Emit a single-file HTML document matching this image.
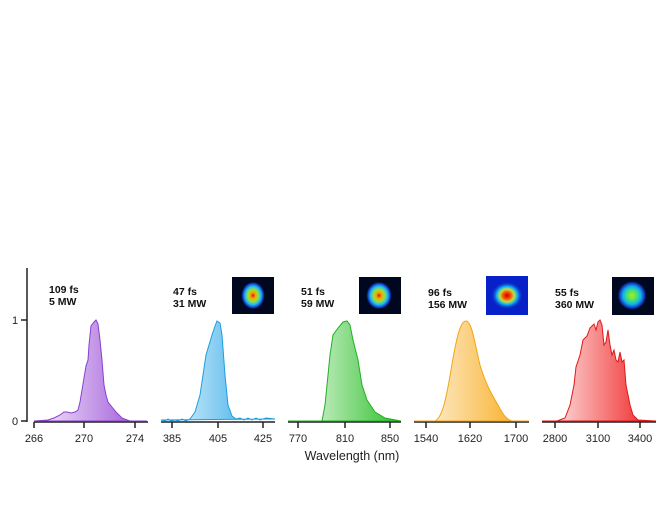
<!DOCTYPE html>
<html><head><meta charset="utf-8"><style>
html,body{margin:0;padding:0;background:#fff;}
svg{display:block;}
text{font-family:"Liberation Sans",sans-serif;}
</style></head><body>
<svg width="667" height="515" viewBox="0 0 667 515" xmlns="http://www.w3.org/2000/svg">
<defs>
<linearGradient id="g1" x1="0" x2="1" y1="0" y2="0"><stop offset="0" stop-color="#f5ecfc"/><stop offset="1" stop-color="#9a4fd6"/></linearGradient>
<linearGradient id="g2" x1="0" x2="1" y1="0" y2="0"><stop offset="0" stop-color="#eef8fd"/><stop offset="1" stop-color="#1aa0e6"/></linearGradient>
<linearGradient id="g3" x1="0" x2="1" y1="0" y2="0"><stop offset="0" stop-color="#f6fcf4"/><stop offset="1" stop-color="#2cbf2a"/></linearGradient>
<linearGradient id="g4" x1="0" x2="1" y1="0" y2="0"><stop offset="0" stop-color="#fff6e6"/><stop offset="1" stop-color="#f7a814"/></linearGradient>
<linearGradient id="g5" x1="0" x2="1" y1="0" y2="0"><stop offset="0" stop-color="#fff3f3"/><stop offset="1" stop-color="#ee1c1c"/></linearGradient>
<radialGradient id="b1"><stop offset="0" stop-color="#e01010"/><stop offset="0.2" stop-color="#f5a000"/><stop offset="0.42" stop-color="#a0e030"/><stop offset="0.65" stop-color="#20c0f0"/><stop offset="0.88" stop-color="#1030c0"/><stop offset="1" stop-color="#000820" stop-opacity="0"/></radialGradient>
<radialGradient id="b3"><stop offset="0" stop-color="#c00000"/><stop offset="0.25" stop-color="#ff5000"/><stop offset="0.45" stop-color="#c0e040"/><stop offset="0.65" stop-color="#10b0f0"/><stop offset="1" stop-color="#0820c8" stop-opacity="0"/></radialGradient>
<radialGradient id="b4"><stop offset="0" stop-color="#b0f000"/><stop offset="0.35" stop-color="#40e080"/><stop offset="0.6" stop-color="#10b0f0"/><stop offset="0.85" stop-color="#1030b0"/><stop offset="1" stop-color="#000820" stop-opacity="0"/></radialGradient>
</defs>
<g stroke="#222" stroke-width="1.5" fill="none">
<path d="M27 268 V422"/><path d="M21 320 H27"/><path d="M21 421 H27"/>
<path d="M34 422 H148 M34 422 v6 M84 422 v6 M135 422 v6"/>
<path d="M161 422 H275 M172 422 v6 M218 422 v6 M263 422 v6"/>
<path d="M288 422 H401 M298 422 v6 M345 422 v6 M390 422 v6"/>
<path d="M414 422 H529 M426 422 v6 M470 422 v6 M516 422 v6"/>
<path d="M542 422 H656 M555 422 v6 M598 422 v6 M640 422 v6"/>
</g>
<g font-size="11" fill="#222">
<text x="12" y="324">1</text><text x="12" y="425">0</text>
<g text-anchor="middle">
<text x="34" y="442">266</text><text x="84" y="442">270</text><text x="135" y="442">274</text>
<text x="172" y="442">385</text><text x="218" y="442">405</text><text x="263" y="442">425</text>
<text x="298" y="442">770</text><text x="345" y="442">810</text><text x="390" y="442">850</text>
<text x="426" y="442">1540</text><text x="470" y="442">1620</text><text x="516" y="442">1700</text>
<text x="555" y="442">2800</text><text x="598" y="442">3100</text><text x="640" y="442">3400</text>
</g>
<text x="352" y="460" font-size="12.5" text-anchor="middle">Wavelength (nm)</text>
</g>
<g font-size="10.5" font-weight="bold" fill="#111">
<text x="49" y="293">109 fs</text><text x="49" y="305">5 MW</text>
<text x="173" y="295">47 fs</text><text x="173" y="307">31 MW</text>
<text x="301" y="295">51 fs</text><text x="301" y="307">59 MW</text>
<text x="428" y="296">96 fs</text><text x="428" y="308">156 MW</text>
<text x="555" y="296">55 fs</text><text x="555" y="308">360 MW</text>
</g>
<rect x="232" y="277" width="42" height="37" fill="#000820"/><ellipse cx="253" cy="295.5" rx="12" ry="14" fill="url(#b1)"/>
<rect x="359" y="277" width="42" height="37" fill="#000820"/><ellipse cx="379" cy="295.5" rx="13" ry="14" fill="url(#b1)"/>
<rect x="486" y="276" width="42" height="39" fill="#0820c8"/><ellipse cx="507" cy="295.5" rx="16" ry="14" fill="url(#b3)"/>
<rect x="612" y="277" width="42" height="38" fill="#000820"/><ellipse cx="632" cy="295.5" rx="15" ry="15" fill="url(#b4)"/>
<path fill="url(#g1)" stroke="#8a3fcf" stroke-width="1" d="M34 421 L48 420 54 418 60 415 64 412 67 412 71 413 75 412 78 410 80 402 82 390 84 378 86 366 88 360 89 345 91 326 94 322 96 320 98 324 100 340 102 360 104 385 106 395 108 402 112 407 116 412 122 418 130 421 147 421Z"/>
<path fill="url(#g2)" stroke="#1a9ee0" stroke-width="1" d="M161 420 L165 421 168 419 171 421 175 420 178 421 182 419 186 421 190 419 195 412 200 395 203 375 206 355 209 345 212 335 215 326 217 321 220 323 222 335 225 375 228 405 232 416 236 419 240 418 244 420 248 418 252 420 256 418 260 420 266 418 275 419Z"/>
<path fill="url(#g3)" stroke="#22b022" stroke-width="1" d="M288 421 L322 421 325 405 327 385 330 355 333 335 338 328 343 322 347 321 350 325 353 340 358 360 362 385 367 400 375 412 385 418 401 421Z"/>
<path fill="url(#g4)" stroke="#f2a416" stroke-width="1" d="M414 421 L435 421 C442 418 446 400 451 370 C456 340 460 321 466 321 C472 321 475 345 480 365 C486 385 492 395 498 405 C502 412 505 419 512 421 L529 421Z"/>
<path fill="url(#g5)" stroke="#e01818" stroke-width="1" d="M542 421 L557 421 565 418 570 405 574 385 576 367 580 355 583 340 587 336 590 328 594 324 596 330 598 322 600 320 602 325 604 345 606 342 608 330 610 345 612 355 614 350 616 360 618 362 620 352 622 362 624 360 626 385 628 395 630 405 633 415 638 420 656 421Z"/>
</svg>
</body></html>
